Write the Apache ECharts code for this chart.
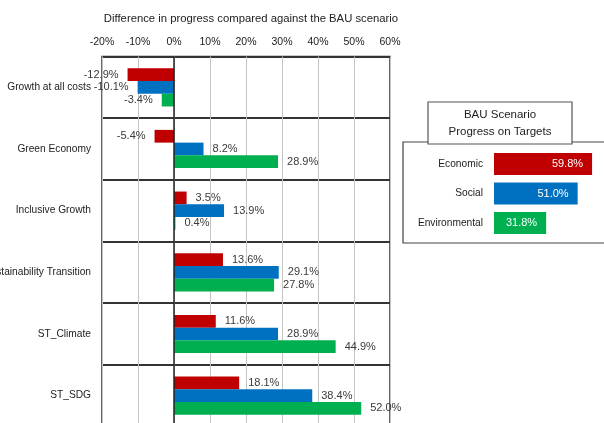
<!DOCTYPE html>
<html>
<head>
<meta charset="utf-8">
<script src="https://cdn.jsdelivr.net/npm/echarts@6/dist/echarts.min.js"></script>
<style>
html,body{margin:0;padding:0;background:#fff;}
#chart{width:604px;height:423px;}
</style>
</head>
<body>
<div id="chart"></div>
<script>
var categories = ['Growth at all costs','Green Economy','Inclusive Growth','Sustainability Transition','ST_Climate','ST_SDG'];
var economic = [-12.9, -5.4, 3.5, 13.6, 11.6, 18.1];
var social = [-10.1, 8.2, 13.9, 29.1, 28.9, 38.4];
var environmental = [-3.4, 28.9, 0.4, 27.8, 44.9, 52.0];
var xTicks = [-20, -10, 0, 10, 20, 30, 40, 50, 60];
var bauCategories = ['Economic','Social','Environmental'];
var bauValues = [59.8, 51.0, 31.8];

var FONT = '"Liberation Sans", Arial, sans-serif';
var COLORS = ['#C00000', '#0070C0', '#00B050'];

function items(arr) {
  return arr.map(function (v) {
    return {
      value: v,
      label: { position: v < 0 ? 'left' : 'right' }
    };
  });
}

function mainSeries(name, arr, color, withZero) {
  var s = {
    name: name,
    type: 'bar',
    xAxisIndex: 0,
    yAxisIndex: 0,
    data: items(arr),
    barGap: '0%',
    barCategoryGap: '38%',
    itemStyle: { color: color },
    label: {
      show: true,
      distance: 9,
      fontFamily: FONT,
      fontSize: 11,
      color: '#3a3a3a',
      formatter: function (p) { return p.value.toFixed(1) + '%'; }
    },
    z: 3
  };
  if (withZero) {
    s.markLine = {
      silent: true,
      symbol: ['none', 'none'],
      label: { show: false },
      lineStyle: { color: '#222', width: 1.5, type: 'solid' },
      data: [{ xAxis: 0 }],
      animation: false
    };
  }
  return s;
}

var chart = echarts.init(document.getElementById('chart'), null, { renderer: 'canvas' });

var option = {
  animation: false,
  backgroundColor: '#fff',
  textStyle: { fontFamily: FONT },
  title: {
    text: 'Difference in progress compared against the BAU scenario',
    left: 246,
    top: 8,
    textAlign: 'center',
    textStyle: { fontFamily: FONT, fontSize: 11.3, fontWeight: 'normal', color: '#222' }
  },
  grid: [
    { left: 102, top: 56.5, width: 288, height: 370, show: true, borderColor: '#333', borderWidth: 1.5, backgroundColor: 'transparent', containLabel: false, outerBoundsMode: 'none' },
    { left: 494, top: 149.25, width: 164, height: 88.5, containLabel: false, outerBoundsMode: 'none' }
  ],
  xAxis: [
    {
      type: 'value', gridIndex: 0, position: 'top',
      min: xTicks[0], max: xTicks[xTicks.length - 1], interval: 10,
      axisLine: { show: false }, axisTick: { show: false },
      axisLabel: { margin: 9, fontFamily: FONT, fontSize: 10.5, color: '#222', formatter: '{value}%' },
      splitLine: { show: true, lineStyle: { color: '#c4c4c4', width: 1 } }
    },
    {
      type: 'value', gridIndex: 1, min: 0, max: 100, show: false
    }
  ],
  yAxis: [
    {
      type: 'category', gridIndex: 0, data: categories, inverse: true,
      axisLine: { show: false }, axisTick: { show: false },
      axisLabel: { margin: 11, fontFamily: FONT, fontSize: 10.2, color: '#222' },
      splitLine: { show: true, lineStyle: { color: '#333', width: 2 } }
    },
    {
      type: 'category', gridIndex: 1, data: bauCategories, inverse: true,
      axisLine: { show: false }, axisTick: { show: false },
      axisLabel: { margin: 11, fontFamily: FONT, fontSize: 10.2, color: '#222' },
      splitLine: { show: false }
    }
  ],
  series: [
    mainSeries('Economic', economic, COLORS[0], true),
    mainSeries('Social', social, COLORS[1], false),
    mainSeries('Environmental', environmental, COLORS[2], false),
    {
      name: 'BAU',
      type: 'bar',
      xAxisIndex: 1,
      yAxisIndex: 1,
      barWidth: 22,
      data: bauValues.map(function (v, i) { return { value: v, itemStyle: { color: COLORS[i] } }; }),
      label: {
        show: true, position: 'insideRight', distance: 9,
        fontFamily: FONT, fontSize: 11, color: '#fff',
        formatter: function (p) { return p.value.toFixed(1) + '%'; }
      },
      z: 5
    }
  ],
  graphic: [
    {
      type: 'rect', z: 1,
      shape: { x: 403, y: 142, width: 210, height: 101 },
      style: { fill: 'transparent', stroke: '#444', lineWidth: 1.2 }
    },
    {
      type: 'rect', z: 2,
      shape: { x: 428, y: 102, width: 144, height: 42 },
      style: { fill: '#fff', stroke: '#555', lineWidth: 1.2 }
    },
    {
      type: 'text', z: 3, x: 500, y: 115,
      style: { text: 'BAU Scenario', fill: '#222', font: '11.5px ' + FONT, textAlign: 'center', textVerticalAlign: 'middle' }
    },
    {
      type: 'text', z: 3, x: 500, y: 132,
      style: { text: 'Progress on Targets', fill: '#222', font: '11.5px ' + FONT, textAlign: 'center', textVerticalAlign: 'middle' }
    }
  ]
};

chart.setOption(option);
</script>
</body>
</html>
